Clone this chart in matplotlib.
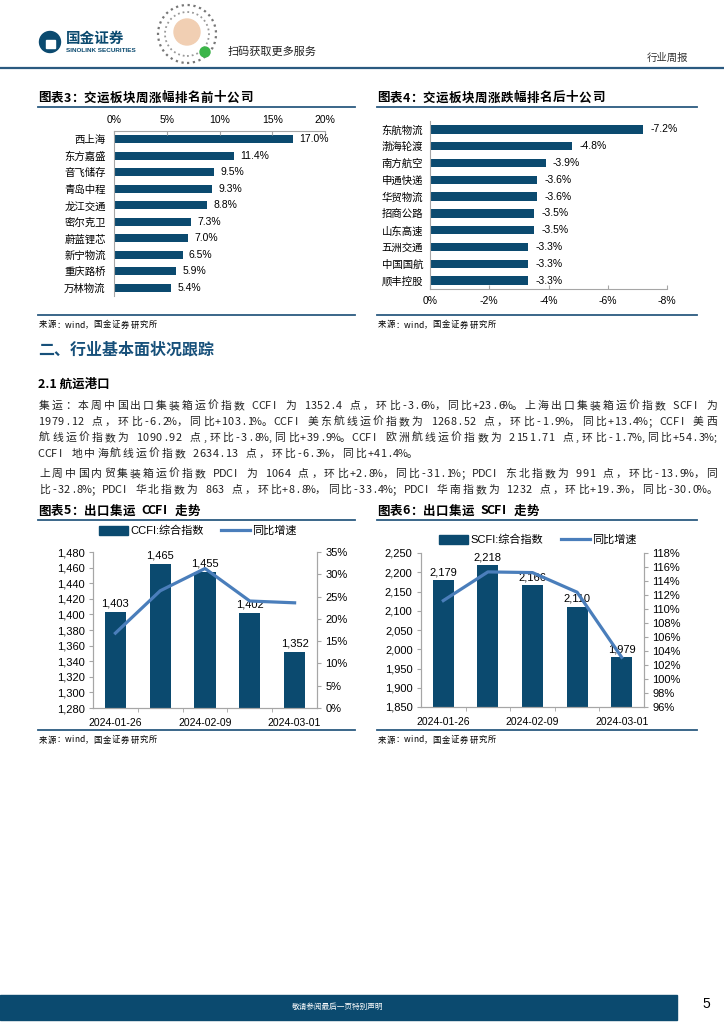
import unicodedata

import matplotlib
matplotlib.use("Agg")
import matplotlib.pyplot as plt
from matplotlib.lines import Line2D
from matplotlib.patches import Ellipse, Patch, Rectangle
from matplotlib.ticker import FuncFormatter, MultipleLocator

plt.rcParams["font.family"] = ["Liberation Sans", "Noto Sans CJK SC"]

W, H = 724, 1024
NAVY = "#0b4a6f"
LINE_BLUE = "#4a7ebb"
RULE = "#2b5a80"
GRID_GRAY = "#a6a6a6"
CJK = ["Noto Sans CJK SC", "DejaVu Sans"]

# chart 3: top ten weekly gainers
top_names = ["西上海", "东方嘉盛", "音飞储存", "青岛中程", "龙江交通",
             "密尔克卫", "蔚蓝锂芯", "新宁物流", "重庆路桥", "万林物流"]
top_pct = [17.0, 11.4, 9.5, 9.3, 8.8, 7.3, 7.0, 6.5, 5.9, 5.4]

# chart 4: bottom ten
bottom_names = ["东航物流", "渤海轮渡", "南方航空", "申通快递", "华贸物流",
                "招商公路", "山东高速", "五洲交通", "中国国航", "顺丰控股"]
bottom_pct = [-7.2, -4.8, -3.9, -3.6, -3.6, -3.5, -3.5, -3.3, -3.3, -3.3]

# chart 5 / 6: container freight indices
dates = ["2024-01-26", "2024-02-02", "2024-02-09", "2024-02-23", "2024-03-01"]
ccfi = [1403, 1465, 1455, 1402, 1352]
ccfi_yoy = [16.8, 26.3, 31.3, 24.0, 23.6]
scfi = [2179, 2218, 2166, 2110, 1979]
scfi_yoy = [111.2, 115.3, 115.2, 112.4, 103.1]

body_lines = [
    "集运：本周中国出口集装箱运价指数 CCFI 为 1352.4 点，环比-3.6%，同比+23.6%。上海出口集装箱运价指数 SCFI 为",
    "1979.12 点，环比-6.2%，同比+103.1%。CCFI 美东航线运价指数为 1268.52 点，环比-1.9%，同比+13.4%；CCFI 美西",
    "航线运价指数为 1090.92 点,环比-3.8%,同比+39.9%。CCFI 欧洲航线运价指数为 2151.71 点,环比-1.7%,同比+54.3%;",
    "CCFI 地中海航线运价指数 2634.13 点，环比-6.3%，同比+41.4%。",
    "上周中国内贸集装箱运价指数 PDCI 为 1064 点，环比+2.8%，同比-31.1%；PDCI 东北指数为 991 点，环比-13.9%，同",
    "比-32.8%；PDCI 华北指数为 863 点，环比+8.8%，同比-33.4%；PDCI 华南指数为 1232 点，环比+19.3%，同比-30.0%。",
]

fig = plt.figure(figsize=(W / 100, H / 100), dpi=100)


def add_ax(x0, y0, x1, y1):
    return fig.add_axes([x0 / W, 1 - y1 / H, (x1 - x0) / W, (y1 - y0) / H])


def put(x, y, s, **kw):
    return fig.text(x / W, 1 - y / H, s, **kw)


def dot(x, y, r, **kw):
    fig.patches.append(Ellipse((x / W, 1 - y / H), 2 * r / W, 2 * r / H,
                               transform=fig.transFigure, **kw))


def hline(x0, x1, y, color=RULE, lw=1.3):
    fig.add_artist(Line2D([x0 / W, x1 / W], [1 - y / H] * 2, color=color, lw=lw,
                          transform=fig.transFigure))


def cells(s):
    return [2 if unicodedata.east_asian_width(c) in ("W", "F") else 1 for c in s]


def spaced(x, y, s, unit, **kw):
    # character grid layout, like the report's fixed-pitch body font
    for ch, w in zip(s, cells(s)):
        if ch != " ":
            put(x + w * unit / 2, y, ch, ha="center", va="center", family=CJK, **kw)
        x += w * unit


# ---- page header
dot(50, 42, 10.5, color=NAVY)
fig.patches.append(Rectangle((45.5 / W, 1 - 48 / H), 9 / W, 8 / H, transform=fig.transFigure,
                             color="white"))
put(66, 38, "国金证券", fontsize=10.5, weight="bold", color=NAVY, va="center", family=CJK)
put(66, 50, "SINOLINK SECURITIES", fontsize=4.6, weight="bold", color=NAVY, va="center")
dot(187, 34, 29, fc="white", ec="#777777", lw=1.6, ls=":")
dot(187, 34, 22, fc="none", ec="#999999", lw=1.3, ls=":")
dot(187, 32, 13, color="#f1cfb3")
dot(205, 52, 5, color="#3cb54a")
put(228, 52, "扫码获取更多服务", fontsize=8, va="center", family=CJK, color="#222222")
put(688, 58, "行业周报", fontsize=7.5, va="center", ha="right", family=CJK, color="#333333")
hline(0, 724, 68, lw=1.6)

# ---- chart titles / rules / sources
spaced(38, 98, "图表3：交运板块周涨幅排名前十公司", 6.5, fontsize=9, weight="bold")
spaced(377, 98, "图表4：交运板块周涨跌幅排名后十公司", 6.5, fontsize=9, weight="bold")
hline(38, 355, 107)
hline(377, 697, 107)
hline(38, 355, 315)
hline(377, 697, 315)
spaced(38, 325, "来源：wind，国金证券研究所", 4.6, fontsize=6)
spaced(377, 325, "来源：wind，国金证券研究所", 4.6, fontsize=6)

ypos = list(range(10))

ax3 = add_ax(114, 131, 325, 296)
ax3.barh(ypos, top_pct, height=0.5, color=NAVY)
ax3.set_xlim(0, 20)
ax3.set_ylim(9.5, -0.5)
ax3.xaxis.tick_top()
ax3.set_xticks([0, 5, 10, 15, 20])
ax3.xaxis.set_major_formatter(FuncFormatter(lambda v, p: f"{v:.0f}%"))
ax3.set_yticks(ypos)
ax3.set_yticklabels(top_names)
ax3.tick_params(axis="y", length=0, pad=6, labelsize=7.5)
ax3.tick_params(axis="x", direction="in", length=3, pad=4, labelsize=7.5, color=GRID_GRAY)
for s in ("right", "bottom"):
    ax3.spines[s].set_visible(False)
for s in ("top", "left"):
    ax3.spines[s].set_color(GRID_GRAY)
for i, v in enumerate(top_pct):
    ax3.text(v + 0.6, i, f"{v:.1f}%", va="center", fontsize=7.5)

ax4 = add_ax(430, 121, 667, 289)
ax4.barh(ypos, bottom_pct, height=0.5, color=NAVY)
ax4.set_xlim(0, -8)
ax4.set_ylim(9.5, -0.5)
ax4.set_xticks([0, -2, -4, -6, -8])
ax4.xaxis.set_major_formatter(FuncFormatter(lambda v, p: f"{v:.0f}%".replace("−", "-")))
ax4.set_yticks(ypos)
ax4.set_yticklabels(bottom_names)
ax4.tick_params(axis="y", length=0, pad=5, labelsize=7.5)
ax4.tick_params(axis="x", direction="in", length=3, pad=5, labelsize=7.5, color=GRID_GRAY)
for s in ("right", "top"):
    ax4.spines[s].set_visible(False)
for s in ("bottom", "left"):
    ax4.spines[s].set_color(GRID_GRAY)
for i, v in enumerate(bottom_pct):
    ax4.text(v - 0.25, i, f"{v:.1f}%", va="center", ha="left", fontsize=7.5)

# ---- section text
put(38, 350, "二、行业基本面状况跟踪", fontsize=11.5, weight="bold", color="#17507a",
    va="center", family=CJK)
put(38, 384, "2.1 航运港口", fontsize=9, weight="bold", va="center", family=CJK)

body_y = [406, 422, 438, 454, 474, 490]
justified = [True, True, True, False, True, True]
for line, y, just in zip(body_lines, body_y, justified):
    unit = 680 / sum(cells(line)) if just else 6.45
    spaced(38, y, line, unit, fontsize=7.8, color="#222222")

# ---- charts 5 and 6
spaced(38, 511, "图表5：出口集运 CCFI 走势", 6.5, fontsize=9, weight="bold")
spaced(377, 511, "图表6：出口集运 SCFI 走势", 6.5, fontsize=9, weight="bold")
hline(38, 355, 520)
hline(377, 697, 520)
hline(38, 355, 730)
hline(377, 697, 730)
spaced(38, 740, "来源：wind，国金证券研究所", 4.6, fontsize=6)
spaced(377, 740, "来源：wind，国金证券研究所", 4.6, fontsize=6)


def combo(box, vals, yoy, ylim, ystep, rlim, rstep, label_off, name, legend_xy):
    ax = add_ax(*box)
    x = list(range(len(vals)))
    ax.bar(x, vals, width=0.47, color=NAVY)
    ax.set_xlim(-0.5, len(vals) - 0.5)
    ax.set_ylim(*ylim)
    ax.yaxis.set_major_locator(MultipleLocator(ystep))
    ax.yaxis.set_major_formatter(FuncFormatter(lambda v, p: f"{v:,.0f}"))
    ax.set_xticks([0, 2, 4])
    ax.set_xticklabels([dates[0], dates[2], dates[4]])
    ax.set_xticks([0.5, 1.5, 2.5, 3.5], minor=True)
    ax.tick_params(axis="x", which="major", length=0, pad=7, labelsize=7.5)
    ax.tick_params(axis="x", which="minor", length=3, color=GRID_GRAY)
    ax.tick_params(axis="y", length=3, color=GRID_GRAY, labelsize=8, pad=3)
    ax.spines["top"].set_visible(False)
    for s in ("left", "right", "bottom"):
        ax.spines[s].set_color(GRID_GRAY)
    for i, v in enumerate(vals):
        ax.text(i, v + label_off, f"{v:,}", ha="center", va="bottom", fontsize=8)

    axr = ax.twinx()
    axr.plot(x, yoy, color=LINE_BLUE, lw=2.3)
    axr.set_ylim(*rlim)
    axr.yaxis.set_major_locator(MultipleLocator(rstep))
    axr.yaxis.set_major_formatter(FuncFormatter(lambda v, p: f"{v:.0f}%"))
    axr.tick_params(axis="y", length=3, color=GRID_GRAY, labelsize=8, pad=3)
    axr.spines["top"].set_visible(False)
    for s in ("left", "right", "bottom"):
        axr.spines[s].set_color(GRID_GRAY)

    handles = [Patch(color=NAVY, label=name),
               Line2D([], [], color=LINE_BLUE, lw=2.3, label="同比增速")]
    axr.legend(handles=handles, loc="center", ncol=2, frameon=False, fontsize=8,
               bbox_to_anchor=(legend_xy[0] / W, 1 - legend_xy[1] / H),
               bbox_transform=fig.transFigure, handlelength=2.6, handleheight=0.8,
               handletextpad=0.2, columnspacing=1.6)


combo((93, 552, 317, 708), ccfi, ccfi_yoy, (1280, 1480), 20, (0, 35), 5, 4,
      "CCFI:综合指数", (198, 531))
combo((421, 553, 644, 707), scfi, scfi_yoy, (1850, 2250), 50, (96, 118), 2, 8,
      "SCFI:综合指数", (538, 540))

# ---- footer
fig.patches.append(Rectangle((0, 1 - 1020 / H), 677 / W, 25 / H, transform=fig.transFigure,
                             color=NAVY))
put(338, 1007, "敬请参阅最后一页特别声明", fontsize=5.5, color="white", ha="center",
    va="center", family=CJK)
put(706, 1004, "5", fontsize=10, ha="center", va="center")

fig.savefig("out.png", dpi=100)
